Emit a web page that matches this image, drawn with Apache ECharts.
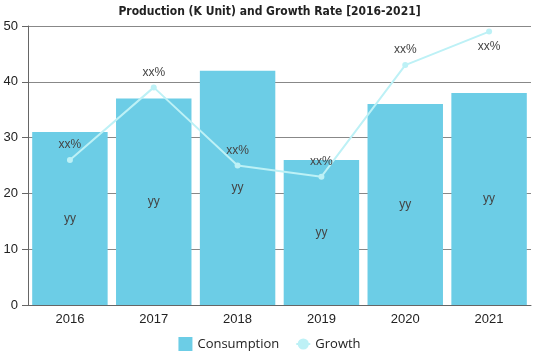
<!DOCTYPE html>
<html><head><meta charset="utf-8">
<script src="https://cdn.jsdelivr.net/npm/echarts@6/dist/echarts.min.js"></script>
<style>html,body{margin:0;padding:0;background:#fff}#c{width:539px;height:359px}</style>
</head><body><div id="c"></div>
<script>
var categories = ['2016','2017','2018','2019','2020','2021'];
var consumption = [31, 37, 42, 26, 36, 38];
var growth = [26, 39, 25, 23, 43, 49];
var barLabel = 'yy';
var lineLabel = 'xx%';
var yTicks = {min: 0, max: 50, interval: 10};

var chart = echarts.init(document.getElementById('c'));
chart.setOption({
  animation: false,
  title: {
    text: 'Production (K Unit) and Growth Rate [2016-2021]',
    left: 'center', top: 1,
    textStyle: {fontFamily: '"DejaVu Sans Condensed", sans-serif', fontWeight: 'bold', fontSize: 12, color: '#222'}
  },
  legend: {
    bottom: 3, left: 'center', itemGap: 16, itemWidth: 14, itemHeight: 14,
    textStyle: {fontSize: 13, color: '#222', fontFamily: '"Open Sans", sans-serif'},
    data: [{name: 'Consumption', icon: 'rect'}, {name: 'Growth'}]
  },
  grid: {left: 28, right: 8, top: 26, bottom: 54},
  xAxis: {
    type: 'category', data: categories,
    axisLine: {lineStyle: {color: '#666'}},
    axisTick: {show: false},
    axisLabel: {color: '#222', fontSize: 13, margin: 8}
  },
  yAxis: {
    type: 'value', min: yTicks.min, max: yTicks.max, interval: yTicks.interval,
    axisLine: {show: true, lineStyle: {color: '#666'}},
    axisTick: {show: true, length: 6, lineStyle: {color: '#666'}},
    axisLabel: {color: '#222', fontSize: 13, margin: 10},
    splitLine: {lineStyle: {color: '#888'}}
  },
  series: [
    {
      name: 'Consumption', type: 'bar', data: consumption, barCategoryGap: '10%',
      itemStyle: {color: '#6ccde6'},
      label: {show: true, position: 'inside', formatter: barLabel, color: '#444', fontSize: 12}
    },
    {
      name: 'Growth', type: 'line', data: growth.map(function(v, i){
        return i === growth.length - 1 ? {value: v, label: {position: 'bottom'}} : v;
      }),
      symbol: 'circle', symbolSize: 6,
      lineStyle: {color: '#bdf1f6', width: 2},
      itemStyle: {color: '#bdf1f6'},
      label: {show: true, position: 'top', formatter: lineLabel, color: '#444', fontSize: 12, distance: 6}
    }
  ]
});
</script></body></html>
